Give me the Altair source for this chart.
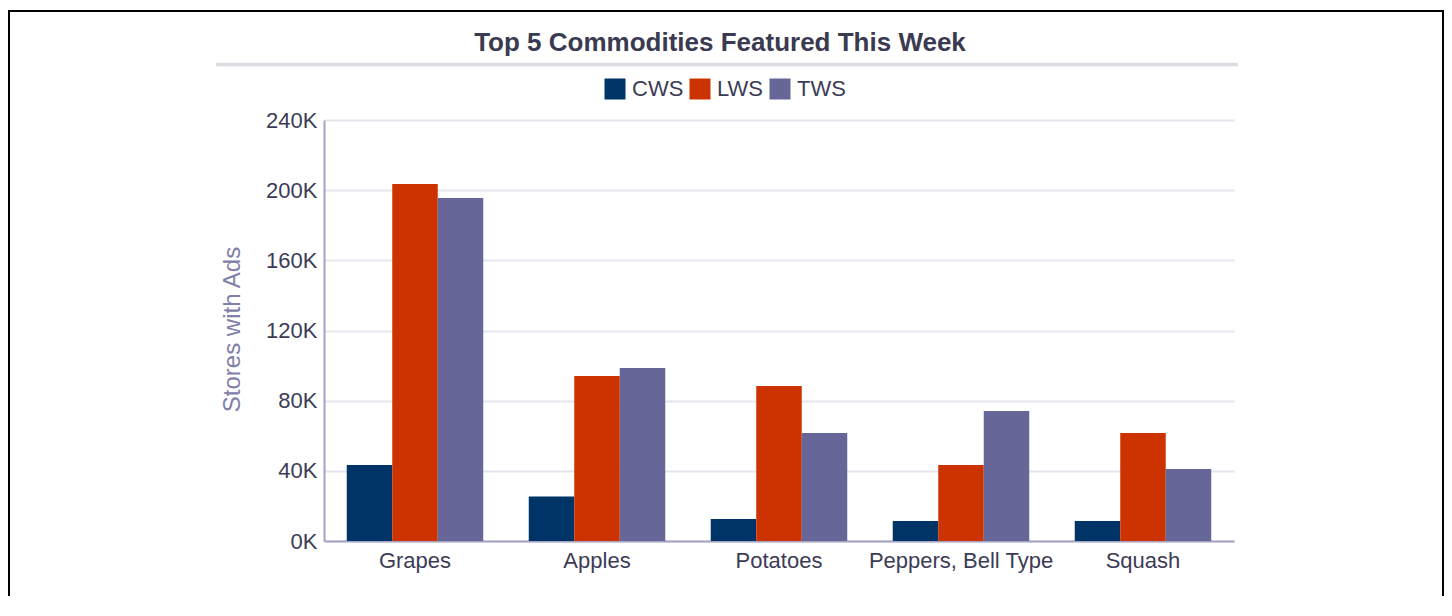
import altair as alt
import pandas as pd

categories = ["Grapes", "Apples", "Potatoes", "Peppers, Bell Type", "Squash"]
series = ["CWS", "LWS", "TWS"]
cws = [43300, 25300, 12500, 11400, 11400]
lws = [203500, 94000, 88400, 43300, 61600]
tws = [195500, 98600, 61600, 74100, 41000]
colors = ["#003366", "#CC3300", "#666699"]
y_ticks = [0, 40000, 80000, 120000, 160000, 200000, 240000]
title_text = "Top 5 Commodities Featured This Week"
y_title = "Stores with Ads"

rows = []
for s, vals in zip(series, [cws, lws, tws]):
    for c, v in zip(categories, vals):
        rows.append({"Commodity": c, "Series": s, "Stores": v})
df = pd.DataFrame(rows)

FONT = "Liberation Sans"
TXT = "#3c3c56"
AXC = "#a4a4c2"

bars = alt.Chart(df).mark_bar().encode(
    x=alt.X("Commodity:N", sort=categories,
            scale=alt.Scale(paddingInner=0.25, paddingOuter=0.125),
            axis=alt.Axis(title=None, labelAngle=0, ticks=False, labelPadding=9,
                          labelFontSize=22, labelColor=TXT, labelFont=FONT, labelLimit=400,
                          domainColor=AXC, domainWidth=2, grid=False)),
    xOffset=alt.XOffset("Series:N", sort=series, scale=alt.Scale(paddingInner=0, paddingOuter=0)),
    y=alt.Y("Stores:Q", scale=alt.Scale(domain=[0, 240000], nice=False),
            axis=alt.Axis(title=y_title, values=y_ticks,
                          labelExpr="datum.value/1000 + 'K'",
                          ticks=False, labelPadding=7, labelFontSize=22,
                          labelColor=TXT, labelFont=FONT,
                          titleFont=FONT, titleFontSize=24, titleFontWeight="normal",
                          titleColor="#8080a8", titleAngle=270, titleX=-92, titleY=209,
                          titleAlign="center", titleBaseline="middle",
                          domainColor=AXC, domainWidth=2,
                          gridColor="#e4e4ee", gridWidth=2)),
    color=alt.Color("Series:N", sort=series,
                    scale=alt.Scale(domain=series, range=colors),
                    legend=alt.Legend(title=None, orient="none", legendX=280, legendY=-42,
                                      direction="horizontal", symbolType="square",
                                      symbolSize=441, symbolStrokeWidth=0,
                                      symbolOpacity=1,
                                      labelFontSize=22, labelFont=FONT, labelColor=TXT,
                                      labelOffset=6, columnPadding=5, padding=0)),
)

blank = alt.Data(values=[{}])

title_mark = alt.Chart(blank).mark_text(
    font=FONT, fontSize=26, fontWeight="bold", color="#3a3a50",
    align="center", baseline="alphabetic"
).encode(x=alt.value(396), y=alt.value(-69), text=alt.value(title_text))

underline = alt.Chart(blank).mark_rule(color="#dcdce5", strokeWidth=3.5).encode(
    x=alt.value(-108), x2=alt.value(914), y=alt.value(-55.5))

border_left = alt.Chart(blank).mark_rule(color="black", strokeWidth=2).encode(
    x=alt.value(-315), y=alt.value(-110), y2=alt.value(480))
border_top = alt.Chart(blank).mark_rule(color="black", strokeWidth=2).encode(
    x=alt.value(-316), x2=alt.value(1120), y=alt.value(-109))
border_right = alt.Chart(blank).mark_rule(color="black", strokeWidth=2).encode(
    x=alt.value(1119), y=alt.value(-110), y2=alt.value(480))

chart = alt.layer(bars, underline, title_mark, border_left, border_top, border_right).properties(
    width=910, height=421,
    autosize=alt.AutoSizeParams(type="none"),
    padding={"left": 316, "top": 112, "right": 210, "bottom": 55},
    background="white",
).configure_view(strokeWidth=0, stroke="transparent")

chart.save("out.html", embed_options={"renderer": "svg", "actions": False})
